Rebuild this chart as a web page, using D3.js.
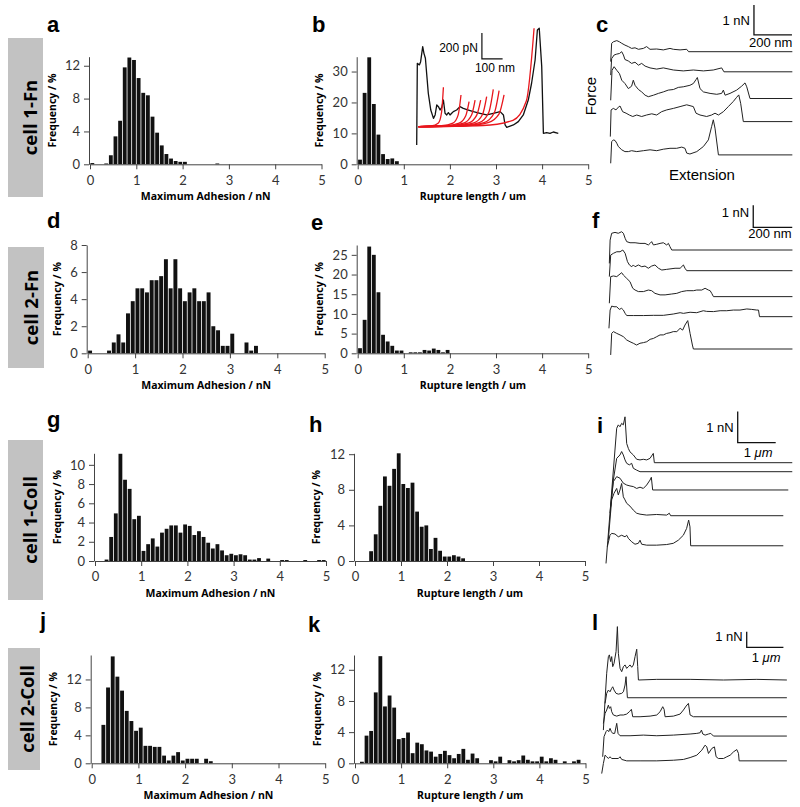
<!DOCTYPE html>
<html>
<head>
<meta charset="utf-8">
<script src="https://cdn.jsdelivr.net/npm/d3@7"></script>
<style>
  body { margin: 0; background: #fff; }
</style>
</head>
<body>
<div id="vis"></div>
<script type="text/javascript">

// histogram frequencies (%) in 0.1 bins, first bin starts at 0
const adhesionCell1Fn = [0.15, 0, 0, 0.1, 1.1, 3.4, 5.3, 11.8, 13.0, 12.7, 10.5, 8.7, 8.4, 5.8, 3.85, 2.3, 1.25, 0.7, 0.4, 0.3, 0.3, 0, 0, 0, 0, 0, 0, 0.1];
const ruptureCell1Fn = [1.5, 23.1, 34.6, 19.5, 9.6, 3.3, 1.7, 1.9, 1.0];
const adhesionCell2Fn = [0.2, 0, 0, 0, 0.2, 0.8, 1.4, 0.8, 2.95, 3.85, 4.8, 4.8, 4.5, 5.4, 5.4, 5.7, 6.95, 4.8, 6.95, 4.8, 3.85, 4.5, 4.8, 3.85, 3.85, 4.5, 2.0, 1.7, 0.55, 0.55, 1.45, 0, 0, 0.8, 0.2, 0.55];
const ruptureCell2Fn = [1.3, 8.5, 27.1, 25.0, 15.5, 4.7, 3.0, 1.9, 0.7, 0.7, 0, 0.25, 0.25, 0.25, 0.85, 0.7, 1.2, 0.85, 0.25, 0.85];
const adhesionCell1Coll = [0, 0, 0.15, 2.5, 4.95, 11.15, 8.45, 7.5, 4.35, 4.7, 1.05, 1.75, 2.35, 1.5, 2.95, 3.35, 3.7, 3.7, 2.95, 3.8, 3.65, 2.7, 3.1, 2.5, 1.9, 1.3, 1.75, 1.1, 0.6, 0.75, 0.6, 0.7, 0.6, 0.15, 0.15, 0.3, 0, 0.25, 0, 0, 0.1, 0.1, 0, 0, 0, 0.1, 0, 0, 0.1, 0.1];
const ruptureCell1Coll = [0, 0, 0, 1.1, 3.0, 6.2, 9.5, 8.45, 10.35, 12.1, 8.65, 8.2, 8.8, 5.55, 3.85, 4.0, 1.35, 2.6, 1.15, 0.5, 0.5, 0.65, 0.5, 0.3];
const adhesionCell2Coll = [0, 0, 5.5, 10.85, 15.3, 12.4, 10.4, 7.5, 6.05, 4.65, 5.1, 2.5, 2.5, 2.35, 2.35, 1.1, 0.4, 1.1, 1.6, 0.4, 0.65, 0.65, 0.65, 0, 0.65, 0.3];
const ruptureCell2Coll = [0, 0.2, 3.55, 4.15, 9.1, 13.75, 7.3, 8.7, 7.15, 3.1, 3.25, 3.95, 1.3, 2.65, 2.45, 1.65, 1.5, 0.85, 1.2, 1.6, 1.05, 0.65, 1.2, 1.85, 0.45, 1.25, 0.65, 0, 0, 0.4, 0.25, 0.85, 0, 0.4, 0.25, 0.4, 1.0, 0.45, 0.25, 0.25, 0.85, 0.25, 0.65, 0.45, 0, 0.25, 0, 0.25, 0.45];

const binWidth = 0.1;
const xTickValues = [0, 1, 2, 3, 4, 5];
const yTicksA = [0, 4, 8, 12];
const yTicksB = [0, 10, 20, 30];
const yTicksD = [0, 2, 4, 6, 8];
const yTicksE = [0, 5, 10, 15, 20, 25];
const yTicksG = [0, 2, 4, 6, 8, 10];
const yTicksH = [0, 4, 8, 12];
const yTicksJ = [0, 4, 8, 12];
const yTicksK = [0, 4, 8, 12];

const rowNames = ["cell 1-Fn", "cell 2-Fn", "cell 1-Coll", "cell 2-Coll"];

// inset of b: extension (nm), force (pN)
const insetTrace = [[0,-90],[3,538],[13,526],[19,551],[29,667],[35,615],[42,577],[48,462],[56,308],[68,179],[81,115],[89,141],[97,218],[105,205],[113,179],[121,200],[129,256],[137,154],[145,141],[153,159],[161,141],[169,154],[177,167],[193,179],[209,205],[225,192],[250,179],[274,167],[306,154],[338,141],[370,154],[403,167],[419,141],[427,64],[435,46],[451,56],[467,64],[491,90],[515,141],[539,256],[555,385],[572,564],[583,795],[592,808],[604,513],[612,0],[628,5],[644,0],[660,10],[684,0]];
const insetFits = [
  [[8,51],[70,57],[105,80],[120,160],[129,354]],
  [[8,51],[120,58],[175,78],[200,140],[214,295]],
  [[8,51],[140,58],[205,78],[237,135],[253,244]],
  [[8,51],[160,58],[230,80],[265,140],[282,256]],
  [[8,51],[175,58],[252,80],[290,140],[309,256]],
  [[8,51],[190,58],[276,80],[318,145],[338,282]],
  [[8,51],[210,58],[302,82],[348,160],[370,338]],
  [[8,51],[225,58],[325,82],[375,158],[398,328]],
  [[8,51],[240,58],[345,82],[398,150],[422,295]],
  [[8,51],[320,60],[465,100],[530,250],[567,808]]
];

// force curves: extension (nm), force (nN) above each curve's own baseline
const tracesC = [
  [[0,-0.33],[5,0.28],[14,0.33],[32,0.37],[46,0.33],[58,0.28],[75,0.22],[93,0.17],[110,0.11],[128,0.13],[146,0.08],[172,0.11],[189,0.17],[207,0.08],[242,0.09],[277,0.06],[312,0.11],[330,0.08],[365,0.06],[400,0.08],[410,0],[956,0]],
  [[0,-0.11],[5,0.44],[18,0.56],[32,0.59],[46,0.61],[58,0.67],[67,0.56],[75,0.41],[93,0.36],[110,0.28],[128,0.32],[146,0.22],[163,0.28],[181,0.19],[207,0.13],[242,0.09],[277,0.13],[330,0.06],[382,0.03],[435,0.06],[488,0.03],[540,0.06],[584,0.13],[596,0],[956,0]],
  [[0,-0.06],[7,0.94],[18,1.06],[32,0.94],[46,0.83],[58,0.61],[75,0.5],[93,0.33],[110,0.41],[119,0.61],[128,0.44],[146,0.3],[163,0.22],[181,0.11],[198,0.06],[225,0.11],[251,0.17],[277,0.22],[303,0.28],[330,0.3],[356,0.37],[382,0.39],[417,0.44],[435,0.5],[449,0.63],[456,0.7],[470,0.33],[488,0.22],[523,0.17],[558,0.14],[584,0.17],[593,0.28],[602,0.11],[628,0.17],[663,0.28],[689,0.41],[707,0.52],[716,0.39],[733,0],[956,0]],
  [[-2,-0.5],[2,0.39],[14,0.44],[28,0.39],[40,0.48],[49,0.52],[63,0.33],[81,0.28],[98,0.22],[116,0.17],[137,0.22],[163,0.17],[189,0.22],[216,0.26],[242,0.22],[268,0.33],[295,0.39],[330,0.44],[365,0.5],[400,0.56],[435,0.5],[449,0.28],[470,0.22],[505,0.17],[531,0.22],[549,0.28],[567,0.22],[593,0.33],[619,0.5],[645,0.67],[663,0.81],[674,0.89],[684,0.61],[698,0],[956,0]],
  [[0,-0.28],[5,0.44],[14,0.5],[23,0.48],[32,0.39],[40,0.28],[58,0.17],[75,0.11],[93,0.11],[110,0.14],[137,0.11],[172,0.14],[207,0.17],[242,0.14],[277,0.19],[312,0.22],[347,0.22],[374,0.26],[391,0.22],[400,0.06],[417,0.03],[453,0.11],[488,0.28],[514,0.5],[531,0.94],[540,1.17],[549,0.89],[567,0],[956,0]]
];
const tracesF = [
  [[-7,-0.61],[-3,0.45],[5,0.76],[22,0.8],[39,0.76],[56,0.83],[65,0.76],[74,0.53],[82,0.38],[99,0.33],[125,0.33],[150,0.3],[176,0.3],[193,0.23],[202,0.3],[210,0.38],[219,0.23],[236,0.26],[253,0.3],[270,0.33],[287,0.23],[296,0.3],[304,0.15],[313,0],[932,0]],
  [[-7,-0.27],[0,0.71],[14,0.79],[31,0.86],[48,0.86],[62,0.94],[74,0.79],[86,0.41],[96,0.26],[108,0.18],[116,0.26],[125,0.18],[142,0.26],[159,0.18],[176,0.21],[193,0.11],[210,0.21],[227,0.26],[245,0.11],[262,0.03],[287,0.06],[330,0.11],[356,0.11],[373,0.26],[381,0.11],[390,0],[932,0]],
  [[-7,-0.3],[0,0.91],[14,0.94],[31,0.91],[48,1.03],[56,1.09],[65,0.98],[82,0.83],[99,0.68],[113,0.38],[125,0.3],[142,0.23],[168,0.23],[193,0.3],[210,0.27],[227,0.15],[253,0.08],[279,0.08],[313,0.12],[339,0.15],[364,0.23],[390,0.27],[424,0.27],[441,0.3],[467,0.3],[484,0.38],[501,0.3],[510,0.27],[518,0.15],[527,0],[932,0]],
  [[-9,-0.53],[-3,0.3],[5,0.48],[17,0.45],[31,0.45],[44,0.33],[56,0.38],[65,0.3],[74,0.15],[82,0.05],[116,0.05],[168,0.05],[219,0.06],[270,0.06],[321,0.12],[356,0.18],[373,0.15],[407,0.2],[441,0.18],[475,0.27],[492,0.24],[527,0.23],[561,0.27],[595,0.27],[629,0.3],[663,0.3],[698,0.35],[723,0.33],[749,0.3],[758,0.3],[763,0],[932,0]],
  [[0,-0.27],[5,0.71],[14,0.79],[31,0.71],[48,0.64],[65,0.56],[82,0.41],[99,0.33],[116,0.26],[133,0.18],[150,0.26],[168,0.29],[185,0.33],[202,0.44],[219,0.48],[236,0.56],[253,0.64],[270,0.64],[287,0.71],[304,0.74],[321,0.79],[339,0.79],[356,0.94],[369,0.86],[381,1.09],[395,1.29],[407,0.71],[419,0.18],[424,0],[932,0]]
];
const tracesI = [
  [[0,-3.25],[281,1.11],[324,1.22],[368,1.16],[412,1.27],[456,1.22],[500,1.48],[544,0.62],[588,0.46],[631,0.35],[719,0.25],[807,0.11],[895,0.09],[982,0.11],[1070,0.09],[1158,0.14],[1245,0.3],[1272,0],[4902,0]],
  [[105,-1.34],[193,-0.27],[281,0.43],[368,0.54],[412,0.65],[456,0.54],[500,0.38],[544,0.27],[614,0.22],[675,0.27],[719,0.11],[807,0.05],[895,0],[4902,0]],
  [[123,-0.54],[193,0.27],[281,0.43],[368,0.38],[456,0.22],[544,0.16],[631,0.13],[719,0.11],[807,0.05],[895,0.09],[982,0.05],[1070,0.16],[1158,0.32],[1193,0.41],[1228,0],[4797,0]],
  [[61,-0.78],[149,0.51],[210,0.72],[281,0.88],[324,0.67],[368,0.83],[412,1.04],[456,0.61],[500,0.51],[544,0.4],[631,0.31],[719,0.18],[807,0.08],[895,0.05],[1070,0.02],[1333,0.04],[1596,0.02],[1666,0.08],[1701,0],[4666,0]],
  [[35,-0.03],[105,0.34],[149,0.4],[237,0.38],[324,0.29],[412,0.34],[500,0.29],[544,0.34],[588,0.24],[675,0.13],[763,0.05],[851,0.08],[895,0.18],[938,0.05],[1070,0.02],[1333,0.02],[1596,0.04],[1772,0.08],[1903,0.18],[2035,0.34],[2122,0.56],[2175,0.83],[2210,0.61],[2228,0],[4666,0]]
];
const tracesL = [
  [[18,-3.19],[64,-1.28],[109,0.43],[155,1.49],[182,1.6],[218,1.17],[245,1.49],[273,0.85],[309,1.06],[364,1.81],[400,3.4],[427,1.7],[473,0.74],[518,0.53],[564,0.85],[609,0.96],[654,0.74],[700,0.85],[745,0.96],[791,0.81],[836,0.96],[882,1.49],[927,1.96],[954,0.85],[973,0],[1473,0.04],[2382,0.04],[3291,0],[4200,0.04],[5018,0]],
  [[64,-0.36],[109,0.28],[155,0.49],[200,0.38],[245,0.6],[273,0.7],[309,0.49],[364,0.28],[427,0.23],[518,0.28],[564,0.38],[609,0.81],[636,1.34],[673,0],[5018,0]],
  [[18,-0.43],[64,0.21],[109,0.43],[155,0.74],[182,0.53],[218,0.64],[245,0.32],[291,0.11],[382,0.04],[473,0.11],[564,0.11],[654,0.17],[727,0.32],[782,0.47],[818,0],[1018,0],[1291,0.04],[1473,0.11],[1564,0.32],[1636,0.64],[1673,0.47],[1700,0],[1927,0.04],[2109,0.17],[2200,0.43],[2273,0.68],[2336,0.85],[2382,0.11],[2473,0],[5018,0]],
  [[0,-1.32],[36,-0.04],[91,0.28],[127,0.38],[164,0.28],[200,0.49],[236,0.28],[273,0.17],[327,0.17],[382,0.81],[418,0.17],[473,0.02],[745,0.02],[1109,0.06],[1473,0.02],[1927,0.06],[2382,0.13],[2564,0.17],[2654,0.21],[2691,0.38],[2727,0.13],[2791,0.06],[2882,0.13],[2945,0.17],[3018,0],[5018,0]],
  [[-27,-0.81],[18,-0.17],[64,0.36],[109,0.26],[155,0.15],[200,0.26],[245,0.15],[336,0.15],[427,0.15],[473,0.26],[518,0.09],[654,0],[1018,0],[1473,0],[1927,0.04],[2200,0.09],[2382,0.21],[2564,0.36],[2700,0.68],[2791,1.0],[2836,0.89],[2882,0.47],[2973,0.79],[3045,0.89],[3091,0.26],[3154,0.15],[3291,0.15],[3382,0.26],[3473,0.36],[3564,0.57],[3654,0.72],[3700,0.47],[3718,0],[5018,0]]
];
// vertical offset (nN) of each curve's baseline below the first one
const baseC = [0, 0.67, 1.56, 2.33, 3.44];
const baseF = [0, 0.94, 2.12, 3.03, 4.5];
const baseI = [0, 0.29, 0.88, 1.71, 2.68];
const baseL = [0, 1.13, 2.34, 3.57, 5.15];

const svg = d3.select("#vis")
    .append("svg")
    .attr("width", 800)
    .attr("height", 807);

function styleAxis(a) {
    a.selectAll("path, line").attr("stroke", "#444");
    a.selectAll("text")
        .attr("font-family", "Lato, 'Open Sans', sans-serif")
        .attr("font-size", 13)
        .attr("fill", "#333");
}

function drawHistogram(values, yMax, yTicks, xLabel, p) {
    const x = d3.scaleLinear().domain([0, 5]).range([p.left, p.left + 5 * p.unit]);
    const y = d3.scaleLinear().domain([0, yMax]).range([p.bottom, p.top]);
    const g = svg.append("g");
    const bins = values.map((v, i) => ({x0: i * binWidth, v: v})).filter(d => d.v > 0);

    g.selectAll("rect")
        .data(bins)
        .enter()
        .append("rect")
        .attr("x", d => x(d.x0) + 0.4)
        .attr("width", x(binWidth) - x(0) - 0.8)
        .attr("y", d => y(d.v))
        .attr("height", d => y(0) - y(d.v))
        .attr("fill", "#111");

    const xa = g.append("g")
        .attr("transform", `translate(0,${p.bottom})`)
        .call(d3.axisBottom(x).tickValues(xTickValues).tickSize(5).tickPadding(6)
            .tickSizeOuter(0).tickFormat(d3.format("d")));
    const ya = g.append("g")
        .attr("transform", `translate(${p.left - 1},0)`)
        .call(d3.axisLeft(y).tickValues(yTicks).tickSize(5).tickPadding(4).tickSizeOuter(0));
    styleAxis(xa);
    styleAxis(ya);

    g.append("text")
        .attr("x", p.left + 2.5 * p.unit)
        .attr("y", p.bottom + 36)
        .attr("text-anchor", "middle")
        .attr("font-family", "'Open Sans', sans-serif")
        .attr("font-weight", "bold")
        .attr("font-size", 10.5)
        .text(xLabel);
    g.append("text")
        .attr("transform", `translate(${p.ylx},${(p.top + p.bottom) / 2}) rotate(-90)`)
        .attr("text-anchor", "middle")
        .attr("font-family", "'Open Sans', sans-serif")
        .attr("font-weight", "bold")
        .attr("font-size", 10.5)
        .text("Frequency / %");
}

function drawTraces(traces, bases, p) {
    const x = d3.scaleLinear().domain([0, 1000]).range([p.x0, p.x0 + 1000 * p.pxPerNm]);
    const y = d3.scaleLinear().domain([0, 1]).range([p.y0, p.y0 - p.pxPerNN]);
    const g = svg.append("g");
    traces.forEach((t, i) => {
        const line = d3.line()
            .x(d => x(d[0]))
            .y(d => y(d[1] - bases[i]));
        g.append("path")
            .attr("d", line(t))
            .attr("fill", "none")
            .attr("stroke", "#222")
            .attr("stroke-width", 1)
            .attr("stroke-linejoin", "round");
    });

    // scale bar
    const cx = x(p.bar[0]), cy = y(p.bar[1]);
    g.append("path")
        .attr("d", `M${cx},${y(p.bar[1] + 1)}V${cy}H${x(p.bar[0] + p.barNm)}`)
        .attr("fill", "none")
        .attr("stroke", "#111")
        .attr("stroke-width", 1.3);
    g.append("text")
        .attr("x", cx - 4)
        .attr("y", cy + p.forceDy)
        .attr("text-anchor", "end")
        .attr("font-family", "'Liberation Sans', Arial, sans-serif")
        .attr("font-size", 13)
        .text("1 nN");
    const lt = g.append("text")
        .attr("x", cx + p.lenDx)
        .attr("y", cy + p.lenDy)
        .attr("font-family", "'Liberation Sans', Arial, sans-serif")
        .attr("font-size", 13);
    if (p.barNm === 1000) {
        lt.append("tspan").text("1 ");
        lt.append("tspan").attr("font-style", "italic").text("\u03bcm");
    } else {
        lt.text(p.barNm + " nm");
    }
}

function drawInset() {
    const x = d3.scaleLinear().domain([0, 100]).range([416.7, 416.7 + 20.7]);
    const y = d3.scaleLinear().domain([0, 200]).range([133.3, 133.3 - 26]);
    const g = svg.append("g");
    const line = d3.line().x(d => x(d[0])).y(d => y(d[1]));
    const fit = d3.line().x(d => x(d[0])).y(d => y(d[1])).curve(d3.curveMonotoneX);

    g.append("path")
        .attr("d", line(insetTrace))
        .attr("fill", "none")
        .attr("stroke", "#111")
        .attr("stroke-width", 1.3)
        .attr("stroke-linejoin", "round");
    g.selectAll("path.fit")
        .data(insetFits)
        .enter()
        .append("path")
        .attr("class", "fit")
        .attr("d", d => fit(d))
        .attr("fill", "none")
        .attr("stroke", "#e8161c")
        .attr("stroke-width", 1.3);

    const bx = x(315), by = y(572);
    g.append("path")
        .attr("d", `M${bx},${y(772)}V${by}H${x(415)}`)
        .attr("fill", "none")
        .attr("stroke", "#111")
        .attr("stroke-width", 1.2);
    g.append("text")
        .attr("x", bx - 4)
        .attr("y", by - 7)
        .attr("text-anchor", "end")
        .attr("font-family", "'Liberation Sans', Arial, sans-serif")
        .attr("font-size", 12)
        .text("200 pN");
    g.append("text")
        .attr("x", bx - 7)
        .attr("y", by + 13)
        .attr("font-family", "'Liberation Sans', Arial, sans-serif")
        .attr("font-size", 12)
        .text("100 nm");
}

function drawRowBoxes() {
    const boxes = [
        {y: 38, h: 159, w: 35, tx: 36.7},
        {y: 247, h: 121, w: 36, tx: 38},
        {y: 440, h: 160, w: 35, tx: 36.7},
        {y: 648, h: 122, w: 32, tx: 34}
    ];
    boxes.forEach((b, i) => {
        svg.append("rect")
            .attr("x", 8).attr("y", b.y)
            .attr("width", b.w).attr("height", b.h)
            .attr("fill", "#c2c2c2");
        svg.append("text")
            .attr("transform", `translate(${b.tx},${b.y + b.h / 2}) rotate(-90)`)
            .attr("text-anchor", "middle")
            .attr("font-family", "'Open Sans', sans-serif")
            .attr("font-weight", "bold")
            .attr("font-size", 18.5)
            .text(rowNames[i]);
    });
}

function drawPanelLetters() {
    const letters = [
        ["a", 47, 32], ["b", 312, 32], ["c", 596, 32],
        ["d", 47, 228], ["e", 311, 230], ["f", 592, 228],
        ["g", 47, 427], ["h", 309, 432], ["i", 597, 433],
        ["j", 40, 628], ["k", 308, 632], ["l", 592, 630]
    ];
    svg.selectAll("text.letter")
        .data(letters)
        .enter()
        .append("text")
        .attr("class", "letter")
        .attr("x", d => d[1])
        .attr("y", d => d[2])
        .attr("font-family", "'Liberation Sans', Arial, sans-serif")
        .attr("font-weight", "bold")
        .attr("font-size", 22)
        .text(d => d[0]);
}

drawRowBoxes();
drawPanelLetters();

drawHistogram(adhesionCell1Fn, 13.1, yTicksA, "Maximum Adhesion / nN", {left: 90, unit: 46.3, top: 56.7, bottom: 164.3, ylx: 55.5});
drawHistogram(ruptureCell1Fn, 34.8, yTicksB, "Rupture length / um", {left: 357.7, unit: 46.1, top: 56.7, bottom: 164.3, ylx: 322.5});
drawHistogram(adhesionCell2Fn, 8, yTicksD, "Maximum Adhesion / nN", {left: 87.7, unit: 47.4, top: 245, bottom: 353.3, ylx: 60.5});
drawHistogram(ruptureCell2Fn, 27.5, yTicksE, "Rupture length / um", {left: 357.7, unit: 46.1, top: 245, bottom: 353.3, ylx: 322.5});
drawHistogram(adhesionCell1Coll, 11.2, yTicksG, "Maximum Adhesion / nN", {left: 95, unit: 46.2, top: 453.3, bottom: 561, ylx: 60.5});
drawHistogram(ruptureCell1Coll, 12.1, yTicksH, "Rupture length / um", {left: 355, unit: 46, top: 453.3, bottom: 561, ylx: 320});
drawHistogram(adhesionCell2Coll, 15.5, yTicksJ, "Maximum Adhesion / nN", {left: 91.7, unit: 46.7, top: 655, bottom: 763.3, ylx: 56.5});
drawHistogram(ruptureCell2Coll, 13.9, yTicksK, "Rupture length / um", {left: 355, unit: 46.1, top: 655, bottom: 763.3, ylx: 321});

drawInset();

drawTraces(tracesC, baseC, {x0: 610.7, y0: 51.7, pxPerNm: 0.19, pxPerNN: 30, bar: [754, 0.56], barNm: 200, forceDy: -10, lenDx: -5, lenDy: 12});
drawTraces(tracesF, baseF, {x0: 610.7, y0: 250, pxPerNm: 0.195, pxPerNN: 22, bar: [731, 1.03], barNm: 200, forceDy: -10, lenDx: -5, lenDy: 11});
drawTraces(tracesI, baseI, {x0: 606, y0: 462.7, pxPerNm: 0.038, pxPerNN: 31, bar: [3466, 0.65], barNm: 1000, forceDy: -11, lenDx: 6, lenDy: 14});
drawTraces(tracesL, baseL, {x0: 602.7, y0: 680, pxPerNm: 0.0367, pxPerNN: 15.7, bar: [3924, 2.08], barNm: 1000, forceDy: -6, lenDx: 5, lenDy: 15});

svg.append("text")
    .attr("transform", "translate(596,96) rotate(-90)")
    .attr("text-anchor", "middle")
    .attr("font-family", "'Liberation Sans', Arial, sans-serif")
    .attr("font-size", 15)
    .text("Force");
svg.append("text")
    .attr("x", 702)
    .attr("y", 180)
    .attr("text-anchor", "middle")
    .attr("font-family", "'Liberation Sans', Arial, sans-serif")
    .attr("font-size", 15)
    .text("Extension");

</script>
</body>
</html>
